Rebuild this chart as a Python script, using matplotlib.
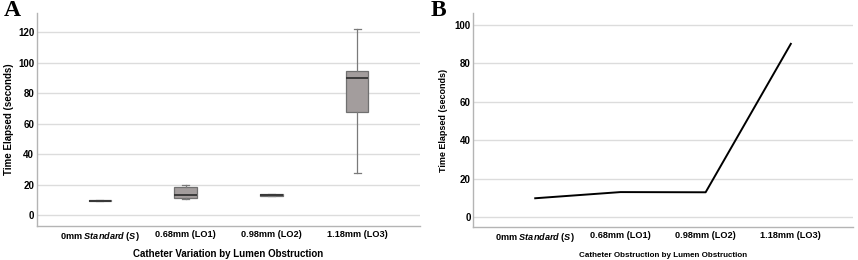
import matplotlib
matplotlib.use('Agg')
import matplotlib.pyplot as plt

plt.rcParams['font.family'] = ['Liberation Sans', 'DejaVu Sans']
plt.rcParams['font.weight'] = 'bold'
plt.rcParams['axes.labelweight'] = 'bold'
plt.rcParams['mathtext.fontset'] = 'custom'
plt.rcParams['mathtext.it'] = 'Liberation Sans:italic:bold'
plt.rcParams['mathtext.rm'] = 'Liberation Sans:bold'

CATEGORIES = ['0mm $\\mathit{Standard}$ ($\\mathit{S}$)', '0.68mm (LO1)',
              '0.98mm (LO2)', '1.18mm (LO3)']

# box plot summary values (seconds)
WHISK_LO = [9.3, 10.7, 12.4, 27.9]
Q1 = [9.4, 11.5, 12.8, 67.8]
MEDIAN = [9.6, 13.3, 13.2, 90.0]
Q3 = [9.8, 18.5, 13.8, 94.5]
WHISK_HI = [9.9, 19.5, 14.0, 122.0]

# mean times, panel B
MEANS = [9.9, 13.1, 13.0, 90.0]

GRID = '#dcdcdc'
SPINE = '#b4b4b4'


def style(ax, ypad):
    for s in ['top', 'right']:
        ax.spines[s].set_visible(False)
    for s in ['left', 'bottom']:
        ax.spines[s].set_color(SPINE)
        ax.spines[s].set_linewidth(1.0)
    ax.yaxis.grid(True, color=GRID, lw=1.0)
    ax.set_axisbelow(True)
    ax.tick_params(length=0)
    ax.tick_params(axis='x', labelsize=6.6, pad=3)
    ax.tick_params(axis='y', labelsize=7, pad=ypad)
    ax.set_xticks(range(len(CATEGORIES)))
    ax.set_xticklabels(CATEGORIES)
    ax.set_xlim(-0.73, 3.73)


fig = plt.figure(figsize=(8.58, 2.6), dpi=100)
ax1 = fig.add_axes([0.0431, 0.131, 0.4464, 0.819])
ax2 = fig.add_axes([0.5513, 0.127, 0.4429, 0.823])

# ---- panel A: box plots ----
stats = []
for i in range(len(CATEGORIES)):
    stats.append({'whislo': WHISK_LO[i], 'q1': Q1[i], 'med': MEDIAN[i],
                  'q3': Q3[i], 'whishi': WHISK_HI[i], 'fliers': []})
ax1.bxp(stats, positions=range(len(CATEGORIES)), widths=0.26,
        patch_artist=True, showfliers=False,
        boxprops=dict(facecolor='#a39d9d', edgecolor='#707070', lw=0.9),
        medianprops=dict(color='#333333', lw=1.3),
        whiskerprops=dict(color='#7a7a7a', lw=0.9),
        capprops=dict(color='#7a7a7a', lw=0.9), capwidths=0.08)
style(ax1, 2)
ax1.set_ylim(-7, 132.5)
ax1.set_yticks([0, 20, 40, 60, 80, 100, 120])
ax1.set_ylabel('Time Elapsed (seconds)', fontsize=7, labelpad=3)
ax1.set_xlabel('Catheter Variation by Lumen Obstruction', fontsize=7, labelpad=4)

# ---- panel B: line ----
ax2.plot(range(len(CATEGORIES)), MEANS, color='black', lw=1.4)
style(ax2, 1.5)
ax2.set_ylim(-5, 106)
ax2.set_yticks([0, 20, 40, 60, 80, 100])
ax2.set_ylabel('Time Elapsed (seconds)', fontsize=6.5, labelpad=5)
ax2.set_xlabel('Catheter Obstruction by Lumen Obstruction', fontsize=5.8, labelpad=6)

fig.text(0.004, 1.0, 'A', fontsize=17, fontweight='bold', va='top',
         family=['Liberation Serif', 'DejaVu Serif'])
fig.text(0.502, 1.0, 'B', fontsize=17, fontweight='bold', va='top',
         family=['Liberation Serif', 'DejaVu Serif'])

fig.savefig('out.png', dpi=100)
